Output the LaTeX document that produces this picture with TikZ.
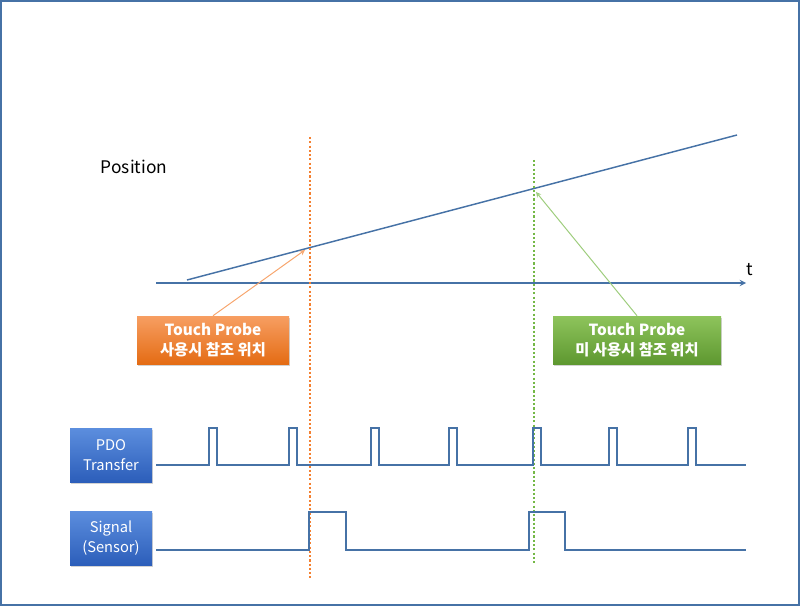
\documentclass[tikz,border=0pt]{standalone}
\usepackage{fontspec}
\setmainfont{Noto Sans CJK KR}
\usetikzlibrary{shadows,arrows}

\definecolor{lineblue}{RGB}{70,114,166}
\definecolor{tporange}{RGB}{244,128,48}
\definecolor{tpgreen}{RGB}{116,184,70}

\begin{document}
\begin{tikzpicture}[
        x=0.75pt, y=-0.75pt,
        obox/.style={rectangle, top color={rgb,255:red,247;green,158;blue,98}, bottom color={rgb,255:red,228;green,108;blue,20}, draw=none, minimum width=114pt, minimum height=36pt, font=\fontsize{11.5}{15.5}\selectfont\bfseries, text=white, align=center, drop shadow={opacity=0.35, shadow xshift=1pt, shadow yshift=-1.5pt}},
        gbox/.style={obox, top color={rgb,255:red,142;green,196;blue,92}, bottom color={rgb,255:red,94;green,152;blue,48}, minimum width=126pt},
        bbox/.style={rectangle, top color={rgb,255:red,92;green,142;blue,222}, bottom color={rgb,255:red,44;green,94;blue,186}, draw=none, minimum width=61.5pt, minimum height=40.5pt, font=\fontsize{11}{15}\selectfont, text=white, align=center, drop shadow={opacity=0.35, shadow xshift=1pt, shadow yshift=-1.5pt}},
        wave/.style={draw=lineblue, line width=1.1pt},
        dots/.style={line width=2pt, dash pattern=on 1.6pt off 1.6pt},
        arrow/.style={->, >=stealth, line width=0.75pt}
    ]
    \useasboundingbox (0,0) rectangle (800,606);
    \draw[lineblue, line width=1.5pt] (1,1) rectangle (799,605);

    \node[font=\fontsize{13}{15}\selectfont] (pos) at (134,167) {Position};
    \node[font=\fontsize{13}{15}\selectfont] (t) at (750,270) {t};

    \coordinate (ax0) at (156,283);
    \coordinate (ax1) at (746,283);
    \coordinate (p0) at (187,280);
    \coordinate (p1) at (737,135);
    \draw[wave, ->, >=stealth] (ax0) -- (ax1);
    \draw[wave] (p0) -- (p1);

    \coordinate (otop) at (310,137);
    \coordinate (obot) at (310,578);
    \coordinate (gtop) at (534,160);
    \coordinate (gbot) at (534,565);
    \draw[dots, tporange] (otop) -- (obot);
    \draw[dots, tpgreen] (gtop) -- (gbot);

    \node[obox] (tpuse) at (213,340) {Touch Probe\\사용시 참조 위치};
    \node[gbox] (tpnouse) at (637,340) {Touch Probe\\미 사용시 참조 위치};

    \coordinate (ohit) at (305,250);
    \coordinate (ghit) at (536,192);
    \draw[arrow, tporange!70] (tpuse.north) -- (ohit);
    \draw[arrow, tpgreen!70] (tpnouse.north) -- (ghit);

    \node[bbox] (pdo) at (111,455) {PDO\\Transfer};
    \node[bbox] (sig) at (111,538) {Signal\\(Sensor)};

    \draw[wave] (156,465) foreach \p in {209,289,371,449,533,609,688} { -- (\p,465) -- (\p,428) -- (\p+8,428) -- (\p+8,465) } -- (746,465);
    \draw[wave] (156,550) foreach \p/\q in {309/346,529/565} { -- (\p,550) -- (\p,512) -- (\q,512) -- (\q,550) } -- (746,550);

\end{tikzpicture}
\end{document}
